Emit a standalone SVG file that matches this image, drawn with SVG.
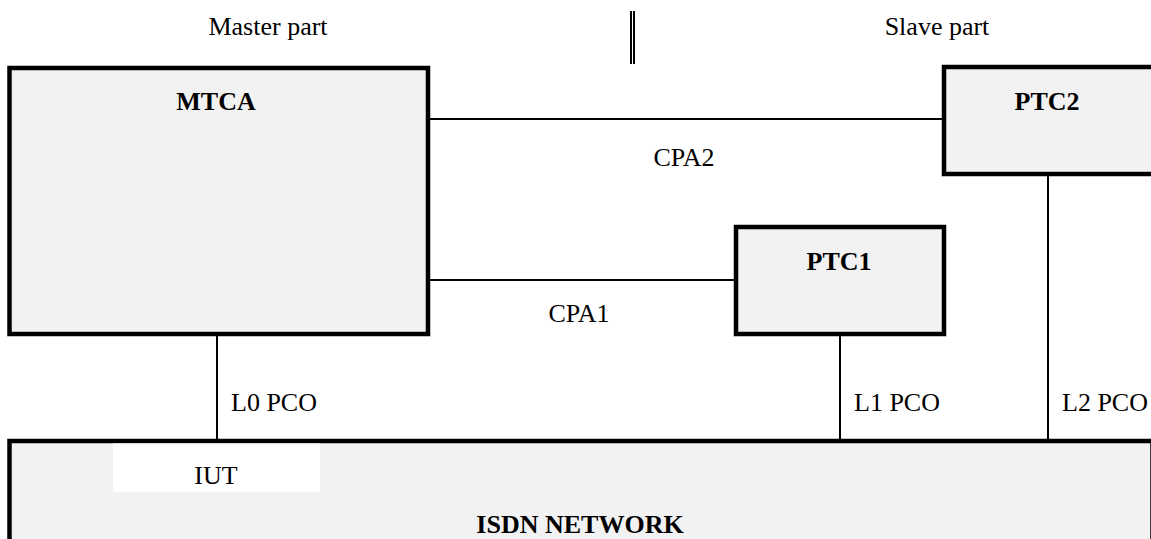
<svg xmlns="http://www.w3.org/2000/svg" width="1151" height="539" viewBox="0 0 1151 539">
<style>
.box{fill:#f2f2f2;stroke:#000;stroke-width:4.5}
.ln{stroke:#000;stroke-width:2;fill:none}
.t{font-family:"Liberation Serif","Times New Roman",serif;font-size:26px;fill:#000}
.b{font-weight:bold}
.m{text-anchor:middle}
</style>
<rect width="1151" height="539" fill="#fff"/>
<g id="labels">
<text class="t m" x="268" y="35">Master part</text>
<text class="t m" x="937" y="35">Slave part</text>
</g>
<g id="divider">
<line class="ln" x1="631" y1="11" x2="631" y2="64"/>
<line class="ln" x1="634" y1="11" x2="634" y2="64"/>
</g>
<g id="connectors">
<line class="ln" x1="430" y1="119" x2="942" y2="119"/>
<line class="ln" x1="430" y1="280" x2="734" y2="280"/>
<line class="ln" x1="217" y1="336" x2="217" y2="439"/>
<line class="ln" x1="840" y1="336" x2="840" y2="439"/>
<line class="ln" x1="1048" y1="176" x2="1048" y2="439"/>
<text class="t m" x="684" y="166">CPA2</text>
<text class="t m" x="579" y="322">CPA1</text>
<text class="t" x="231" y="411">L0 PCO</text>
<text class="t" x="854" y="411">L1 PCO</text>
<text class="t" x="1062" y="411">L2 PCO</text>
</g>
<g id="MTCA">
<rect class="box" x="9.5" y="68" width="418.5" height="266"/>
<text class="t b m" x="216" y="110">MTCA</text>
</g>
<g id="PTC2">
<rect class="box" x="944" y="67" width="215" height="107"/>
<text class="t b m" x="1047" y="110">PTC2</text>
</g>
<g id="PTC1">
<rect class="box" x="736" y="227" width="208" height="107"/>
<text class="t b m" x="839" y="270">PTC1</text>
</g>
<g id="ISDN">
<rect class="box" x="9.5" y="441" width="1143" height="110"/>
<rect x="113" y="443.5" width="207" height="48.5" fill="#fff"/>
<text class="t m" x="216" y="484">IUT</text>
<text class="t b m" x="580" y="533">ISDN NETWORK</text>
</g>
</svg>
